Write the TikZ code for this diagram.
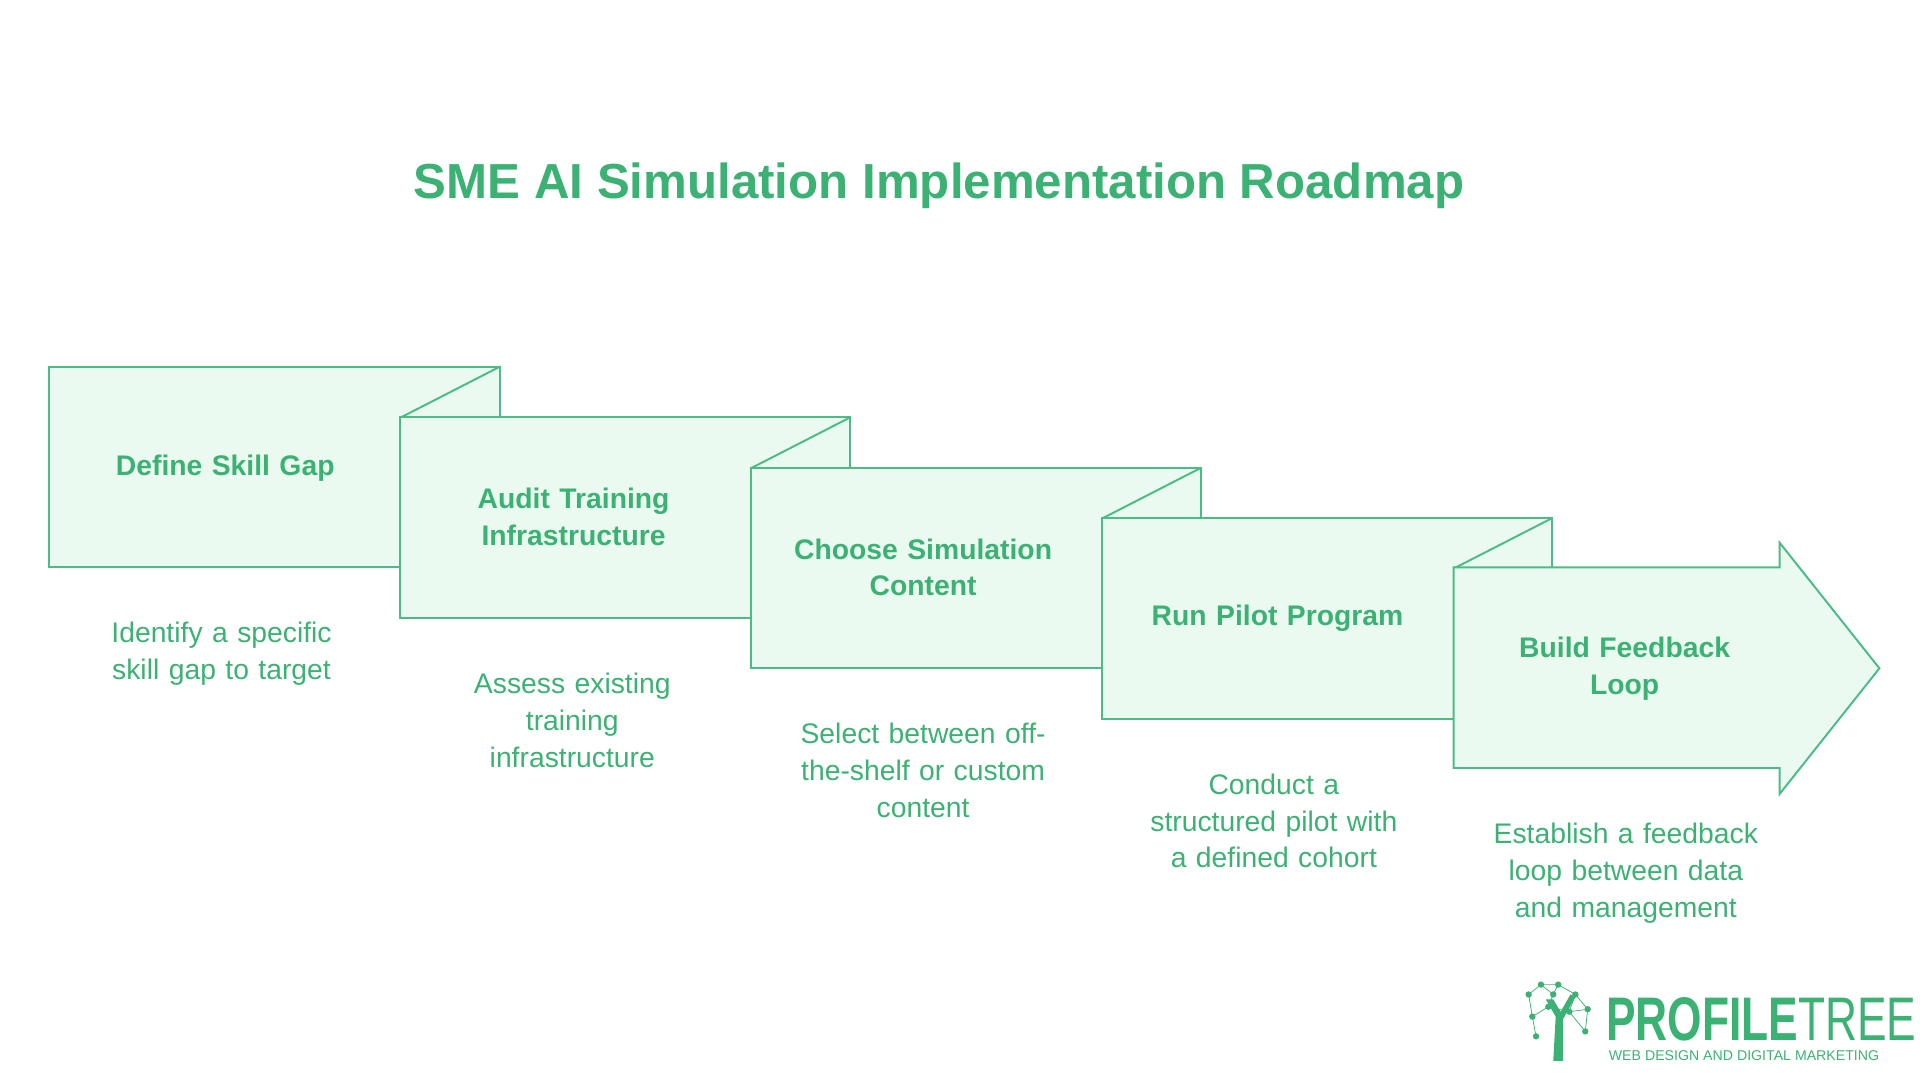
\documentclass[tikz,border=0pt]{standalone}
\usepackage{fontspec}
\setmainfont{Liberation Sans}
\usetikzlibrary{positioning}
\definecolor{ptgreen}{HTML}{3BB273}
\definecolor{ptline}{HTML}{4DBB86}
\definecolor{ptfill}{HTML}{EAFAF1}
\tikzset{
  stepbox/.style={draw=ptline, fill=ptfill, line width=1.6pt, line join=miter},
  steptitle/.style={text=ptgreen, font=\fontsize{23}{30}\selectfont\bfseries, align=center, text width=230pt},
  stepdesc/.style={text=ptgreen, font=\fontsize{23}{30}\selectfont, align=center, text width=250pt, anchor=north},
}
\begin{document}
\begin{tikzpicture}[x=1pt,y=-1pt]
\useasboundingbox (0,0) rectangle (1560,878);
% title
\node[text=ptgreen, font=\fontsize{40}{44}\selectfont\bfseries] (title) at (763,151) {SME AI Simulation Implementation Roadmap};
% folded steps
\foreach \i in {0,1,2,3} {
  \draw[stepbox] (40+285*\i,298+41*\i) rectangle +(366,163);
  \draw[ptline, line width=1.6pt] (406+285*\i,298+41*\i) -- (326+285*\i,339+41*\i);
}
% last step as arrow
\draw[stepbox] (1181,461) -- (1446,461) -- (1446,441) -- (1527,543) -- (1446,645) -- (1446,624) -- (1181,624) -- cycle;
% step titles
\node[steptitle] (t1) at (183,380) {Define Skill Gap};
\node[steptitle] (t2) at (466,420) {Audit Training\\Infrastructure};
\node[steptitle] (t3) at (750,461) {Choose Simulation\\Content};
\node[steptitle] (t4) at (1038,502) {Run Pilot Program};
\node[steptitle] (t5) at (1320,543) {Build Feedback\\Loop};
% descriptions
\node[stepdesc] (d1) at (180,502) {Identify a specific\\skill gap to target};
\node[stepdesc] (d2) at (465,543) {Assess existing\\training\\infrastructure};
\node[stepdesc] (d3) at (750,584) {Select between off-\\the-shelf or custom\\content};
\node[stepdesc] (d4) at (1035,625) {Conduct a\\structured pilot with\\a defined cohort};
\node[stepdesc] (d5) at (1321,665) {Establish a feedback\\loop between data\\and management};
% logo
\fill[ptgreen] (1262,862) -- (1264,826) -- (1256,812) -- (1262,812) -- (1268,822) -- (1276,808) -- (1280,810) -- (1270,828) -- (1270,862) -- cycle;
\foreach \a/\b in {1242/808,1252/800,1266/800,1280/808,1290/820,1245/826,1258/818,1275/822,1288/838,1248/842,1262/808} {
  \fill[ptgreen] (\a,\b) circle (2.6);
}
\draw[ptgreen, line width=0.6pt] (1242,808) -- (1252,800) -- (1266,800) -- (1280,808) -- (1290,820) -- (1288,838) (1242,808) -- (1245,826) -- (1248,842) (1245,826) -- (1258,818) -- (1262,808) -- (1252,800) (1258,818) -- (1275,822) -- (1280,808) (1275,822) -- (1290,820) (1262,808) -- (1266,800) (1275,822) -- (1288,838);
\node[text=ptgreen, anchor=west, inner sep=0, xscale=0.72, font=\fontsize{50}{50}\selectfont\bfseries] (logo) at (1305,828) {PROFILE\mdseries TREE};
\node[text=ptgreen, anchor=west, inner sep=0, font=\fontsize{11.5}{12}\selectfont] (tag) at (1307,858) {WEB DESIGN AND DIGITAL MARKETING};
\end{tikzpicture}
\end{document}
